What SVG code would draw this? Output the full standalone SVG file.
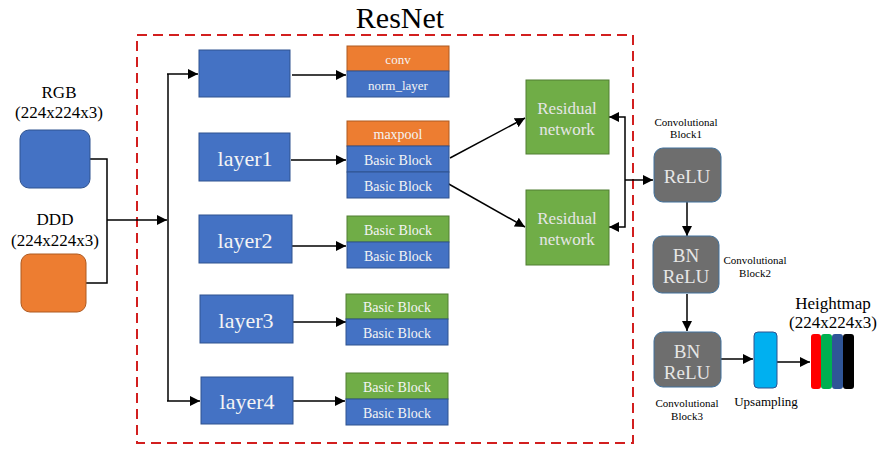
<svg xmlns="http://www.w3.org/2000/svg" width="878" height="450" viewBox="0 0 878 450" font-family="'Liberation Serif', 'Times New Roman', serif">
<style>
text{font-family:"Liberation Serif","Times New Roman",serif;text-anchor:middle;dominant-baseline:central}
.blue{fill:#4472C4;stroke:#2F528F;stroke-width:1}
.orange{fill:#ED7D31;stroke:#AE5A21;stroke-width:1}
.green{fill:#70AD47;stroke:#507E32;stroke-width:1}
.gray{fill:#6E6E6E;stroke:#41719C;stroke-width:1}
.w{fill:#F4F4F4}
.lt{fill:#E6E6E6}
.k{fill:#000}
.s13{font-size:13px}
.s14{font-size:14px}
.s17{font-size:17px}
.s19{font-size:19px}
.s22{font-size:22px}
.s11{font-size:11px}
.con{fill:none;stroke:#000;stroke-width:1.5}
</style>
<defs>
<marker id="ahb" viewBox="0 0 10 10" refX="10" refY="5" markerWidth="10" markerHeight="10" orient="auto" markerUnits="userSpaceOnUse">
<path d="M0,0 L10,5 L0,10 z" fill="#000"/>
</marker>
</defs>

<g id="resnet-frame">
<rect x="137" y="35" width="496" height="408" fill="none" stroke="#D21F1F" stroke-width="2" stroke-dasharray="10,6"/>
<text x="400" y="17" font-size="30" class="k">ResNet</text>
</g>

<g id="connectors">
<polyline class="con" points="90,159 107,159 107,283 86,283"/>
<line class="con" x1="107" y1="220" x2="167" y2="220" marker-end="url(#ahb)"/>
<line class="con" x1="168" y1="74" x2="168" y2="401"/>
<line class="con" x1="167" y1="74" x2="198" y2="74" marker-end="url(#ahb)"/>
<line class="con" x1="167" y1="401" x2="200" y2="401" marker-end="url(#ahb)"/>
<line class="con" x1="292" y1="75" x2="346" y2="75" marker-end="url(#ahb)"/>
<line class="con" x1="291" y1="160" x2="346" y2="160" marker-end="url(#ahb)"/>
<line class="con" x1="292" y1="246" x2="346" y2="246" marker-end="url(#ahb)"/>
<line class="con" x1="293" y1="322" x2="346" y2="322" marker-end="url(#ahb)"/>
<line class="con" x1="290" y1="401" x2="345" y2="401" marker-end="url(#ahb)"/>
<line class="con" x1="450" y1="158" x2="525" y2="118" marker-end="url(#ahb)"/>
<line class="con" x1="447" y1="183" x2="525" y2="227" marker-end="url(#ahb)"/>
<polyline class="con" points="610,117 625,117 625,227 610,227"/>
<line class="con" x1="610" y1="117" x2="609" y2="117" marker-end="url(#ahb)"/>
<line class="con" x1="610" y1="227" x2="609" y2="227" marker-end="url(#ahb)"/>
<line class="con" x1="625" y1="180" x2="653" y2="180" marker-end="url(#ahb)"/>
<line class="con" x1="687" y1="202" x2="687" y2="236" marker-end="url(#ahb)"/>
<line class="con" x1="687" y1="294" x2="687" y2="331" marker-end="url(#ahb)"/>
<line class="con" x1="721" y1="359" x2="753" y2="359" marker-end="url(#ahb)"/>
<line class="con" x1="777" y1="362" x2="810" y2="362" marker-end="url(#ahb)"/>
</g>

<g id="rgb">
<rect x="20" y="130" width="70" height="58" rx="9" class="blue"/>
<text x="59" y="92" class="s17 k">RGB</text>
<text x="59" y="112" class="s17 k">(224x224x3)</text>
</g>
<g id="ddd">
<rect x="21" y="254" width="65" height="58" rx="9" class="orange"/>
<text x="55" y="219" class="s17 k">DDD</text>
<text x="55" y="240" class="s17 k">(224x224x3)</text>
</g>

<g id="stem">
<rect x="199" y="50" width="91" height="47" class="blue"/>
</g>
<g id="stem-ops">
<rect x="347" y="46" width="102" height="25" class="orange"/>
<text x="398" y="59" class="s13 w">conv</text>
<rect x="347" y="71" width="102" height="26" class="blue"/>
<text x="398" y="85" class="s13 w">norm_layer</text>
</g>

<g id="layer1">
<rect x="199" y="133" width="91" height="48" class="blue"/>
<text x="245" y="158" class="s22 w">layer1</text>
</g>
<g id="layer1-ops">
<rect x="347" y="121" width="102" height="25" class="orange"/>
<text x="398" y="134" class="s14 w">maxpool</text>
<rect x="347" y="146" width="102" height="26" class="blue"/>
<text x="398" y="160" class="s14 w">Basic Block</text>
<rect x="347" y="172" width="102" height="26" class="blue"/>
<text x="398" y="186" class="s14 w">Basic Block</text>
</g>

<g id="layer2">
<rect x="199" y="215" width="93" height="48" class="blue"/>
<text x="245" y="240" class="s22 w">layer2</text>
</g>
<g id="layer2-ops">
<rect x="347" y="216" width="102" height="26" class="green"/>
<text x="398" y="230" class="s14 w">Basic Block</text>
<rect x="347" y="242" width="102" height="26" class="blue"/>
<text x="398" y="256" class="s14 w">Basic Block</text>
</g>

<g id="layer3">
<rect x="200" y="295" width="93" height="48" class="blue"/>
<text x="246" y="320" class="s22 w">layer3</text>
</g>
<g id="layer3-ops">
<rect x="346" y="294" width="102" height="25" class="green"/>
<text x="397" y="307" class="s14 w">Basic Block</text>
<rect x="346" y="319" width="102" height="26" class="blue"/>
<text x="397" y="333" class="s14 w">Basic Block</text>
</g>

<g id="layer4">
<rect x="201" y="377" width="92" height="47" class="blue"/>
<text x="247" y="401" class="s22 w">layer4</text>
</g>
<g id="layer4-ops">
<rect x="346" y="373" width="102" height="26" class="green"/>
<text x="397" y="387" class="s14 w">Basic Block</text>
<rect x="346" y="399" width="102" height="26" class="blue"/>
<text x="397" y="413" class="s14 w">Basic Block</text>
</g>

<g id="residual1">
<rect x="526" y="80" width="83" height="74" class="green"/>
<text x="567" y="108" class="s17 lt">Residual</text>
<text x="567" y="129" class="s17 lt">network</text>
</g>
<g id="residual2">
<rect x="526" y="190" width="83" height="75" class="green"/>
<text x="567" y="218" class="s17 lt">Residual</text>
<text x="567" y="239" class="s17 lt">network</text>
</g>

<g id="conv-block1">
<rect x="654" y="148" width="67" height="54" rx="9" class="gray"/>
<text x="687" y="176" class="s19 lt">ReLU</text>
<text x="686" y="122" class="s11 k">Convolutional</text>
<text x="686" y="134" class="s11 k">Block1</text>
</g>
<g id="conv-block2">
<rect x="653" y="236" width="66" height="57" rx="9" class="gray"/>
<text x="686" y="255" class="s19 lt">BN</text>
<text x="686" y="276" class="s19 lt">ReLU</text>
<text x="755" y="260" class="s11 k">Convolutional</text>
<text x="755" y="273" class="s11 k">Block2</text>
</g>
<g id="conv-block3">
<rect x="654" y="332" width="67" height="55" rx="9" class="gray"/>
<text x="687" y="351" class="s19 lt">BN</text>
<text x="687" y="372" class="s19 lt">ReLU</text>
<text x="687" y="403" class="s11 k">Convolutional</text>
<text x="687" y="416" class="s11 k">Block3</text>
</g>
<g id="upsampling">
<rect x="754" y="332" width="23" height="56" rx="4" fill="#00B0F0" stroke="#2F528F" stroke-width="1"/>
<text x="766" y="401" class="s13 k">Upsampling</text>
</g>
<g id="heightmap">
<rect x="811" y="334" width="10" height="55" rx="3" fill="#FF0000"/>
<rect x="821" y="334" width="11" height="55" rx="3" fill="#00B050"/>
<rect x="832" y="334" width="11" height="55" rx="3" fill="#2F5597"/>
<rect x="843" y="334" width="11" height="55" rx="3" fill="#000000"/>
<text x="833" y="303" class="s17 k">Heightmap</text>
<text x="833" y="322" class="s17 k">(224x224x3)</text>
</g>
</svg>
